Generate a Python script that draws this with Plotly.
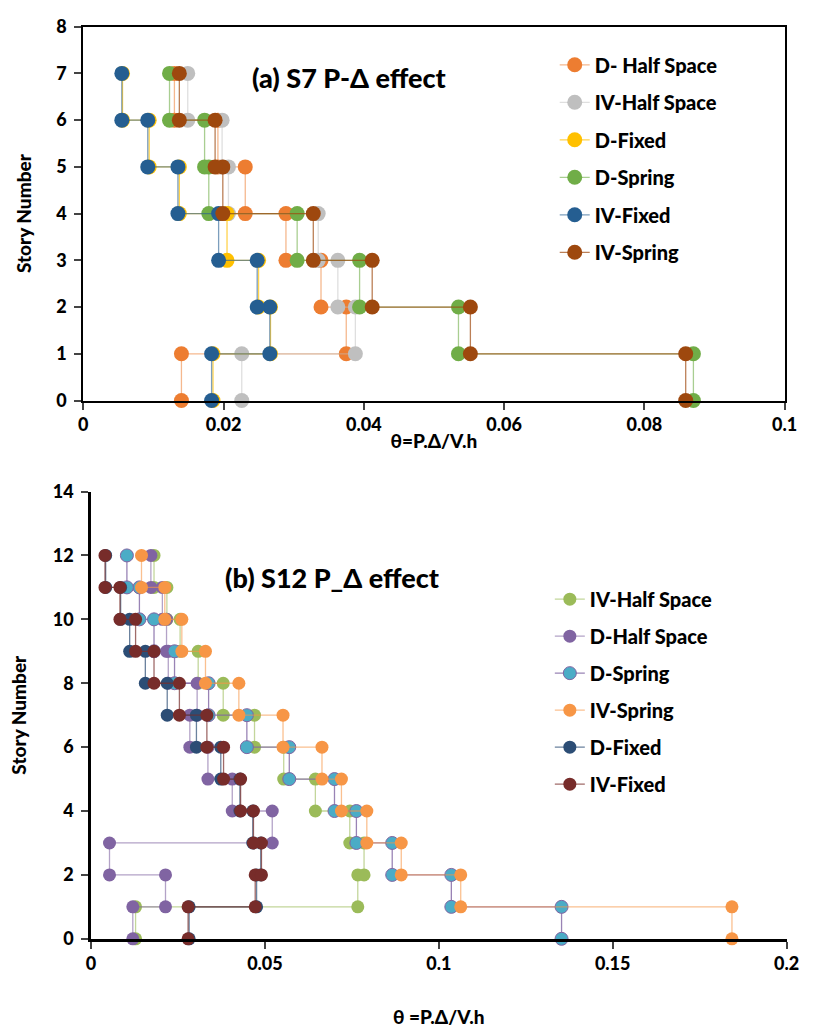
import plotly.graph_objects as go

# ---------------- data: (a) S7 ----------------
a_names = ["D- Half Space", "IV-Half Space", "D-Fixed", "D-Spring", "IV-Fixed", "IV-Spring"]
a_D_half = [0.0140, 0.0375, 0.0339, 0.0289, 0.0231, 0.0192, 0.0130]
a_IV_half = [0.0226, 0.0388, 0.0363, 0.0335, 0.0207, 0.0198, 0.0149]
a_D_fixed = [0.0185, 0.0267, 0.0250, 0.0205, 0.0137, 0.0094, 0.0056]
a_D_spring = [0.0870, 0.0535, 0.0394, 0.0305, 0.0179, 0.0173, 0.0123]
a_IV_fixed = [0.0183, 0.0266, 0.0248, 0.0193, 0.0135, 0.0092, 0.0055]
a_IV_spring = [0.0859, 0.0552, 0.0412, 0.0328, 0.0199, 0.0188, 0.0137]

# ---------------- data: (b) S12 ----------------
b_names = ["IV-Half Space", "D-Half Space", "D-Spring", "IV-Spring", "D-Fixed", "IV-Fixed"]
b_IV_half = [0.0128, 0.0767, 0.0785, 0.0744, 0.0645, 0.0554, 0.0470, 0.0380, 0.0308, 0.0256, 0.0218, 0.0181]
b_D_half = [0.0120, 0.0214, 0.0053, 0.0521, 0.0406, 0.0336, 0.0284, 0.0305, 0.0222, 0.0217, 0.0205, 0.0172]
b_D_spring = [0.1353, 0.1036, 0.0866, 0.0763, 0.0700, 0.0570, 0.0448, 0.0338, 0.0240, 0.0181, 0.0139, 0.0103]
b_IV_spring = [0.1843, 0.1063, 0.0892, 0.0793, 0.0720, 0.0664, 0.0552, 0.0425, 0.0329, 0.0261, 0.0212, 0.0145]
b_D_fixed = [0.0282, 0.0476, 0.0488, 0.0465, 0.0428, 0.0373, 0.0303, 0.0219, 0.0156, 0.0111, 0.0085, 0.0042]
b_IV_fixed = [0.0279, 0.0472, 0.0490, 0.0467, 0.0430, 0.0381, 0.0333, 0.0254, 0.0181, 0.0128, 0.0083, 0.0040]

a_series = [a_D_half, a_IV_half, a_D_fixed, a_D_spring, a_IV_fixed, a_IV_spring]
b_series = [b_IV_half, b_D_half, b_D_spring, b_IV_spring, b_D_fixed, b_IV_fixed]

a_marker = ["#ED7D31", "#BFBFBF", "#FFC000", "#70AD47", "#255E91", "#9E480E"]
a_line = ["rgba(237,125,49,0.55)", "rgba(191,191,191,0.5)", "rgba(255,192,0,0.7)",
          "rgba(112,173,71,0.6)", "rgba(37,94,145,0.6)", "rgba(158,72,14,0.7)"]
b_marker = ["#9BBB59", "#8064A2", "#4BACC6", "#F79646", "#2C4D75", "#772C2A"]
b_border = [None, None, "#8064A2", None, None, None]
b_line = ["rgba(155,187,89,0.6)", "rgba(128,100,162,0.6)", "rgba(128,100,162,0.8)",
          "rgba(247,150,70,0.6)", "rgba(44,77,117,0.7)", "rgba(119,44,42,0.7)"]


def steps(theta):
    xs, ys = [], []
    for k, t in enumerate(theta, start=1):
        xs += [t, t]
        ys += [k - 1, k]
    return xs, ys


FONT = "Lato"
fig = go.Figure()

for name, th, mc, lc in zip(a_names, a_series, a_marker, a_line):
    xs, ys = steps(th)
    fig.add_trace(go.Scatter(
        x=xs, y=ys, mode="lines+markers", name=name, legendgroup="a" + name,
        line=dict(color=lc, width=1.3),
        marker=dict(color=mc, size=15, line=dict(width=0)),
        cliponaxis=False, xaxis="x", yaxis="y", legend="legend"))

for name, th, mc, bc, lc in zip(b_names, b_series, b_marker, b_border, b_line):
    xs, ys = steps(th)
    mk = dict(color=mc, size=13, line=dict(width=0))
    if bc:
        mk["line"] = dict(width=1, color=bc)
    fig.add_trace(go.Scatter(
        x=xs, y=ys, mode="lines+markers", name=name, legendgroup="b" + name,
        line=dict(color=lc, width=1.3), marker=mk,
        cliponaxis=False, xaxis="x2", yaxis="y2", legend="legend2"))

tickfont = dict(family=FONT, size=18, color="black", weight=900)
titlefont = dict(family=FONT, size=19, color="black", weight=900)
legfont = dict(family=FONT, size=20, color="black", weight=900)

W, H = 824, 1032
fig.update_layout(
    width=W, height=H, margin=dict(l=0, r=0, t=0, b=0),
    paper_bgcolor="white", plot_bgcolor="white",
    font=dict(family=FONT, color="black"),
    xaxis=dict(domain=[80 / W, 797 / W], range=[0, 0.1],
               tickvals=[0, 0.02, 0.04, 0.06, 0.08, 0.1],
               ticktext=["0", "0.02", "0.04", "0.06", "0.08", "0.1"],
               showgrid=False, zeroline=False, showline=True, linecolor="black",
               linewidth=2, mirror=True, ticks="outside", ticklen=7, tickwidth=2,
               tickfont=tickfont, anchor="y",
               title=dict(text="θ=P.Δ/V.h", font=titlefont, standoff=1)),
    yaxis=dict(domain=[1 - 397 / H, 1 - 15 / H], range=[0, 8], dtick=1,
               showgrid=False, zeroline=False, showline=True, linecolor="black",
               linewidth=2, mirror=True, ticks="outside", ticklen=7, tickwidth=2,
               tickfont=tickfont, anchor="x", ticklabelstandoff=4,
               title=dict(text="Story Number", font=titlefont, standoff=20)),
    xaxis2=dict(domain=[88 / W, 799 / W], range=[0, 0.2],
                tickvals=[0, 0.05, 0.1, 0.15, 0.2],
                ticktext=["0", "0.05", "0.1", "0.15", "0.2"],
                showgrid=False, zeroline=False, showline=True, linecolor="black",
                linewidth=2.5, ticks="outside", ticklen=7, tickwidth=2,
                tickfont=tickfont, anchor="y2",
                title=dict(text="θ =P.Δ/V.h", font=titlefont, standoff=38)),
    yaxis2=dict(domain=[1 - 947 / H, 1 - 490 / H], range=[0, 14], dtick=2,
                showgrid=False, zeroline=False, showline=True, linecolor="black",
                linewidth=2.5, ticks="outside", ticklen=7, tickwidth=2,
                tickfont=tickfont, anchor="x2", ticklabelstandoff=4,
                title=dict(text="Story Number", font=titlefont, standoff=22)),
    legend=dict(x=562 / W, y=1 - 34 / H, xanchor="left", yanchor="top",
                bgcolor="rgba(0,0,0,0)", tracegroupgap=8.5, font=legfont),
    legend2=dict(x=557 / W, y=1 - 580 / H, xanchor="left", yanchor="top",
                 bgcolor="rgba(0,0,0,0)", tracegroupgap=8, font=legfont),
    annotations=[
        dict(text="(a) S7 P-Δ effect", x=352 / W, y=1 - 48 / H, xref="paper", yref="paper",
             showarrow=False, font=dict(family=FONT, size=27, color="black", weight=900)),
        dict(text="(b) S12 P_Δ effect", x=335 / W, y=1 - 578 / H, xref="paper", yref="paper",
             showarrow=False, font=dict(family=FONT, size=27, color="black", weight=900)),
    ],
    showlegend=True,
)

fig.write_html("out.html")
